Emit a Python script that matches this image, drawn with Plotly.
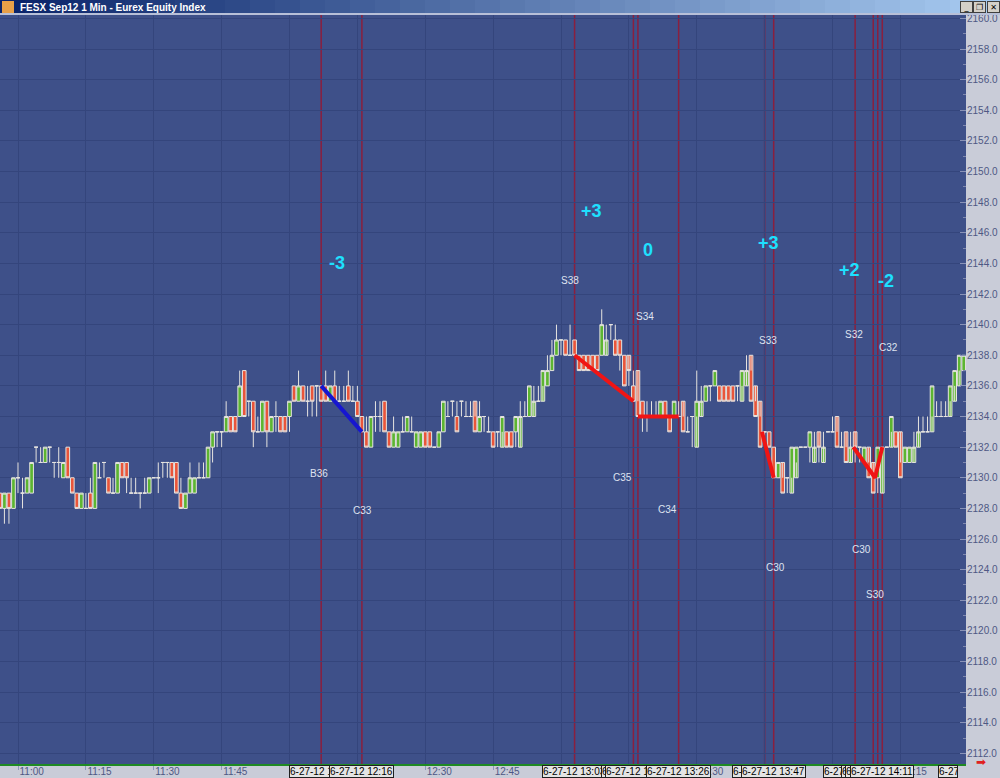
import plotly.graph_objects as go

# ---------------- data ----------------
# bar time = minutes after 11:00 (1-minute bars, 27 June 2012)
minutes = list(range(-4, 210))
opens = [2129,2128,2129,2128,2130,2129,2129,2129,2132,2131,2131,2132,2131,2131,2130,2132,2130,2129,2128,2128,
         2129,2128,2130,2131,2130,2129,2129,2131,2131,2129,2129,2129,2129,2129,2130,2130,2131,2131,2131,2131,
         2129,2128,2129,2129,2130,2130,2130,2132,2133,2133,2133,2134,2134,2134,2137,2135,2135,2133,2133,2135,
         2133,2134,2134,2134,2134,2136,2135,2136,2135,2136,2136,2136,2136,2135,2136,2135,2135,2136,2135,2135,
         2134,2133,2132,2134,2134,2135,2133,2132,2132,2133,2133,2133,2132,2132,2133,2133,2132,2132,2133,2134,
         2135,2134,2135,2134,2134,2135,2133,2134,2133,2133,2133,2132,2133,2133,2133,2132,2134,2134,2134,2135,
         2135,2136,2137,2138,2139,2139,2138,2139,2138,2138,2138,2138,2138,2138,2138,2140,2139,2139,2138,2138,
         2136,2137,2135,2134,2134,2134,2134,2135,2134,2134,2134,2135,2133,2134,2132,2134,2135,2136,2136,2136,
         2136,2136,2136,2136,2135,2136,2138,2136,2135,2133,2133,2132,2130,2131,2130,2129,2130,2132,2132,2132,
         2131,2133,2131,2133,2133,2134,2132,2133,2131,2133,2132,2131,2132,2131,2130,2129,2132,2132,2133,2133,
         2131,2131,2131,2132,2133,2133,2133,2134,2134,2134,2134,2135,2136,2137]
highs = [2129,2129,2129,2130,2131,2130,2130,2131,2132,2132,2132,2132,2131,2132,2131,2132,2130,2129,2129,2129,
         2130,2131,2131,2131,2130,2130,2131,2131,2131,2130,2130,2129,2130,2130,2130,2131,2131,2131,2131,2131,
         2130,2129,2131,2130,2131,2131,2132,2133,2133,2133,2135,2134,2134,2137,2137,2135,2135,2134,2135,2135,
         2134,2135,2134,2134,2135,2136,2137,2136,2136,2136,2136,2136,2137,2136,2137,2136,2136,2137,2136,2136,
         2134,2134,2134,2135,2135,2135,2133,2134,2133,2134,2134,2134,2133,2133,2133,2133,2132,2133,2135,2135,
         2135,2135,2135,2135,2135,2134,2135,2134,2134,2133,2133,2134,2133,2133,2134,2135,2135,2136,2136,2136,
         2137,2138,2139,2140,2139,2139,2140,2139,2138,2138,2138,2138,2138,2141,2140,2140,2140,2139,2138,2137,
         2137,2135,2135,2135,2135,2135,2135,2135,2134,2135,2135,2134,2134,2134,2137,2136,2136,2136,2137,2136,
         2136,2136,2136,2136,2137,2138,2137,2135,2134,2133,2133,2132,2131,2130,2130,2132,2132,2132,2132,2133,
         2133,2132,2133,2133,2134,2133,2133,2132,2133,2132,2132,2132,2131,2130,2132,2132,2132,2134,2133,2131,
         2132,2132,2133,2134,2134,2134,2136,2135,2135,2135,2136,2137,2138,2138]
lows = [2128,2127,2127,2128,2129,2128,2129,2129,2131,2131,2131,2131,2130,2130,2130,2130,2129,2128,2128,2128,
        2128,2128,2130,2130,2129,2129,2129,2130,2129,2129,2129,2128,2129,2129,2130,2129,2130,2130,2130,2129,
        2128,2128,2129,2129,2130,2130,2130,2131,2132,2132,2133,2133,2133,2134,2134,2134,2132,2133,2133,2132,
        2133,2133,2133,2133,2133,2135,2135,2135,2134,2134,2134,2135,2135,2135,2135,2135,2135,2135,2135,2134,
        2133,2132,2132,2133,2133,2133,2132,2132,2132,2133,2133,2133,2132,2132,2132,2132,2132,2132,2133,2134,
        2134,2133,2134,2134,2134,2133,2133,2133,2133,2132,2132,2133,2132,2132,2132,2134,2134,2134,2135,2135,
        2136,2136,2137,2138,2138,2138,2138,2138,2137,2137,2137,2137,2137,2138,2139,2139,2138,2137,2136,2136,
        2135,2134,2133,2133,2134,2134,2134,2134,2133,2134,2134,2133,2133,2132,2134,2135,2135,2135,2136,2135,
        2135,2135,2135,2135,2136,2137,2135,2134,2132,2132,2132,2130,2130,2129,2129,2130,2131,2132,2132,2131,
        2132,2131,2132,2133,2133,2132,2132,2131,2132,2131,2131,2131,2130,2129,2129,2132,2132,2133,2132,2130,
        2131,2131,2132,2133,2133,2133,2134,2134,2134,2134,2135,2136,2137,2137]
closes = [2128,2129,2128,2130,2130,2129,2130,2131,2132,2131,2132,2132,2131,2131,2131,2130,2129,2128,2129,2128,
          2128,2131,2130,2131,2129,2129,2131,2130,2130,2129,2129,2129,2129,2130,2130,2130,2131,2131,2130,2129,
          2128,2129,2130,2130,2130,2130,2132,2133,2133,2133,2134,2133,2133,2136,2134,2135,2133,2133,2135,2133,
          2134,2134,2133,2133,2135,2135,2136,2135,2135,2135,2136,2135,2135,2136,2135,2135,2135,2135,2135,2134,
          2133,2132,2134,2134,2134,2133,2132,2133,2133,2133,2134,2133,2133,2133,2132,2132,2132,2133,2135,2134,
          2135,2133,2135,2134,2134,2133,2134,2134,2133,2132,2133,2134,2132,2132,2134,2134,2134,2136,2135,2135,
          2137,2137,2138,2139,2139,2138,2138,2138,2137,2137,2137,2137,2137,2140,2139,2140,2138,2138,2136,2137,
          2135,2134,2134,2134,2134,2134,2135,2134,2133,2135,2134,2133,2133,2134,2135,2135,2136,2136,2137,2135,
          2135,2135,2135,2136,2137,2137,2135,2134,2132,2133,2132,2130,2131,2129,2130,2132,2132,2132,2132,2133,
          2132,2132,2132,2133,2133,2132,2132,2131,2132,2132,2132,2132,2130,2129,2132,2132,2132,2134,2132,2130,
          2132,2132,2132,2133,2133,2133,2136,2134,2134,2134,2136,2137,2138,2138]

# time axis ticks
tick_minutes = [0, 15, 30, 45, 60, 75, 90, 105, 120, 135, 150, 165, 180, 195]
tick_labels = ["11:00", "11:15", "11:30", "11:45", "12:00", "12:15", "12:30", "12:45",
               "13:00", "13:15", "13:30", "13:45", "14:00", "14:15"]

# vertical event lines
event_minutes = [67, 76, 123, 136, 137, 146, 165, 167, 185, 189, 190, 191]
event_labels = ["6-27-12 12:07", "6-27-12 12:16", "6-27-12 13:03", "6-27-12 13:16",
                "6-27-12 13:17", "6-27-12 13:26", "6-27-12 13:45", "6-27-12 13:47",
                "6-27-12 14:05", "6-27-12 14:09", "6-27-12 14:10", "6-27-12 14:11"]
last_event_label = "6-27-12 14:31"

# signal segments
blue_x = [67, 76]
blue_y = [2136, 2133]
red_segments = [
    ([123, 136], [2138, 2135]),
    ([137, 146], [2134, 2134]),
    ([164.4, 167], [2133, 2130]),
    ([184.6, 189.4, 191], [2132, 2130, 2132]),
]

# big cyan scores
score_text = ["-3", "+3", "0", "+3", "+2", "-2"]
score_x = [70.4, 126.8, 139.2, 165.9, 183.8, 191.8]
score_y = [2144.0, 2147.4, 2144.9, 2145.35, 2143.55, 2142.85]

# small labels
tag_text = ["B36", "C33", "S38", "S34", "C35", "C34", "S33", "C30", "S32", "C30", "C32", "S30"]
tag_x = [66.5, 76.2, 122.0, 138.5, 133.5, 143.6, 165.7, 167.3, 184.8, 186.5, 192.3, 189.4]
tag_y = [2130.3, 2127.85, 2142.9, 2140.55, 2130.0, 2127.9, 2138.95, 2124.15, 2139.35, 2125.3, 2138.5, 2122.4]

title_text = "FESX Sep12 1 Min - Eurex Equity Index"

# ---------------- layout geometry ----------------
W, H = 1000, 778
ML, MR, MT, MB = 0, 34, 15, 14
PW, PH = W - ML - MR, H - MT - MB
PX_PER_MIN = 4.525
X0_PX = 18.0
x_range = [(0 - X0_PX) / PX_PER_MIN, (PW - X0_PX) / PX_PER_MIN]
y_range = [2111.31, 2160.22]


def px(xp):
    return (xp - ML) / PW


def py(yp):
    return (H - MB - yp) / PH


BG = "#3e5089"
GRID = "#34457c"
PANEL = "#c9ccd8"
AXTXT = "#4e5884"

fig = go.Figure()

fig.add_trace(go.Candlestick(
    x=minutes, open=opens, high=highs, low=lows, close=closes,
    increasing=dict(fillcolor="#5cb531", line=dict(color="#e6e4e0", width=1)),
    decreasing=dict(fillcolor="#e9553a", line=dict(color="#e6e4e0", width=1)),
    whiskerwidth=0, hoverinfo="skip", showlegend=False,
))

fig.add_trace(go.Scatter(x=blue_x, y=blue_y, mode="lines",
                         line=dict(color="#1616d0", width=4), hoverinfo="skip", showlegend=False))
for sx, sy in red_segments:
    fig.add_trace(go.Scatter(x=sx, y=sy, mode="lines",
                             line=dict(color="#f01414", width=4), hoverinfo="skip", showlegend=False))

shapes = []
for m in event_minutes:
    shapes.append(dict(type="line", xref="x", yref="paper", x0=m, x1=m, y0=0, y1=1,
                       line=dict(color="#8a1f3e", width=1.5), layer="below"))

# title bar (gradient imitation)
c0 = (10, 36, 106)
c1 = (166, 202, 240)
steps = 40
for i in range(steps):
    t = i / (steps - 1)
    col = "rgb(%d,%d,%d)" % tuple(int(c0[k] + (c1[k] - c0[k]) * t) for k in range(3))
    shapes.append(dict(type="rect", xref="paper", yref="paper",
                       x0=px(W * i / steps), x1=px(W * (i + 1) / steps + 1),
                       y0=py(13), y1=py(0), line=dict(width=0), fillcolor=col, layer="above"))
shapes.append(dict(type="rect", xref="paper", yref="paper", x0=px(0), x1=px(W),
                   y0=py(15), y1=py(13), line=dict(width=0), fillcolor="#b8c0d8", layer="above"))
shapes.append(dict(type="rect", xref="paper", yref="paper", x0=px(2), x1=px(14),
                   y0=py(13), y1=py(1), line=dict(width=0), fillcolor="#e8a048", layer="above"))

annotations = []
annotations.append(dict(xref="paper", yref="paper", x=px(18), y=py(7), xanchor="left", yanchor="middle",
                        text="<b>%s</b>" % title_text, showarrow=False,
                        font=dict(family="Liberation Sans", size=10, color="white")))
for i, sym in enumerate(["_", "❐", "✕"]):
    annotations.append(dict(xref="paper", yref="paper", x=px(960 + 13.3 * i), y=py(1), xanchor="left",
                            yanchor="top", text=sym, showarrow=False, width=11, height=10,
                            bgcolor="#d4d0c8", bordercolor="#404040", borderwidth=1, borderpad=0,
                            font=dict(family="DejaVu Sans", size=8, color="black")))

for t, x, y in zip(score_text, score_x, score_y):
    annotations.append(dict(x=x, y=y, xref="x", yref="y", text="<b>%s</b>" % t, showarrow=False,
                            font=dict(family="Liberation Sans", size=18, color="#1ee0ff")))
for t, x, y in zip(tag_text, tag_x, tag_y):
    annotations.append(dict(x=x, y=y, xref="x", yref="y", text=t, showarrow=False,
                            font=dict(family="Liberation Sans", size=10, color="#dfe3f0")))

for m, lab in zip(event_minutes, event_labels):
    annotations.append(dict(x=m, y=0, xref="x", yref="paper", xanchor="center", yanchor="top",
                            yshift=-1, text=lab, showarrow=False, bgcolor="#e4e4e4",
                            bordercolor="#202020", borderwidth=1, borderpad=0,
                            font=dict(family="Liberation Sans", size=10, color="black")))
annotations.append(dict(x=1, y=0, xref="paper", yref="paper", xanchor="right", yanchor="top",
                        yshift=-1, xshift=-8, text=last_event_label, width=18, align="left",
                        showarrow=False, bgcolor="#e4e4e4", bordercolor="#202020", borderwidth=1,
                        borderpad=0, font=dict(family="Liberation Sans", size=10, color="black")))
annotations.append(dict(xref="paper", yref="paper", x=px(988), y=py(771), text="➡", showarrow=False,
                        font=dict(family="DejaVu Sans", size=12, color="#e02020")))

fig.update_layout(
    width=W, height=H,
    margin=dict(l=ML, r=MR, t=MT, b=MB, pad=0, autoexpand=False),
    paper_bgcolor=PANEL, plot_bgcolor=BG,
    boxgap=0.1, boxgroupgap=0.1,
    shapes=shapes, annotations=annotations, showlegend=False,
    xaxis=dict(range=x_range, tickmode="array", tickvals=tick_minutes, ticktext=tick_labels,
               ticklabelposition="outside right", ticks="outside", ticklen=4, tickcolor="#9098bc",
               ticklabelstandoff=-3,
               showgrid=True, gridcolor=GRID, gridwidth=1, zeroline=False,
               showline=True, linecolor="#1f8a24", linewidth=2,
               tickfont=dict(family="Liberation Sans", size=10, color=AXTXT),
               rangeslider=dict(visible=False), fixedrange=True, automargin=False),
    yaxis=dict(side="right", range=y_range, tick0=2112, dtick=2, tickformat=".1f",
               ticks="inside", ticklen=6, tickcolor="#8a93b8",
               minor=dict(ticks="inside", ticklen=3, dtick=1, tickcolor="#7f88ae", showgrid=False),
               showgrid=True, gridcolor=GRID, gridwidth=1, zeroline=False, showline=False,
               tickfont=dict(family="Liberation Sans", size=10, color=AXTXT), fixedrange=True,
               automargin=False),
)

fig.write_html("out.html", config={"displayModeBar": False},
               post_script="document.body.style.margin='0';document.body.style.overflow='hidden';")
